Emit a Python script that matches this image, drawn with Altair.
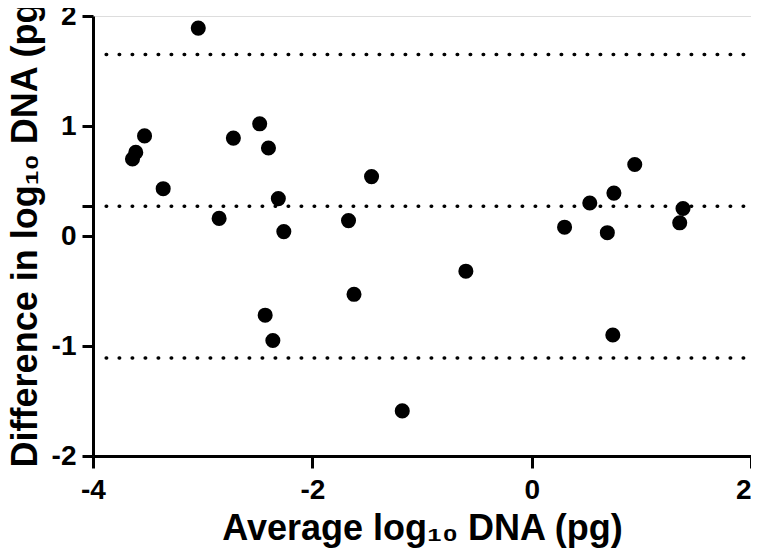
import altair as alt
import pandas as pd

# Average log10 DNA (x) and difference in log10 DNA (y) per sample
avg_x = [-3.04, -3.53, -3.61, -3.64, -3.36, -2.72, -2.48, -2.40, -2.31, -2.85,
         -2.26, -1.46, -1.67, -2.43, -2.36, -1.62, -1.18, -0.60, 0.74, 0.94,
         0.75, 0.53, 0.30, 0.69, 1.38, 1.35]
diff_y = [1.89, 0.91, 0.76, 0.70, 0.43, 0.89, 1.02, 0.80, 0.34, 0.16,
          0.04, 0.54, 0.14, -0.72, -0.95, -0.53, -1.59, -0.32, -0.90, 0.65,
          0.39, 0.30, 0.08, 0.03, 0.25, 0.12]

# Bias and 95% limits of agreement
line_names = ["upper", "bias", "lower"]
line_values = [1.65, 0.27, -1.11]
line_start = [-3.88, -3.88, -3.88]
line_end = [2.0, 2.0, 2.0]

x_ticks = [-4, -2, 0, 2]
y_ticks = [-2, -1, 0, 1, 2, 0.27]

pts = pd.DataFrame({"x": avg_x, "y": diff_y})
lines = pd.DataFrame({"name": line_names, "y": line_values,
                      "x": line_start, "x2": line_end})

FONT = "Liberation Sans"

x_scale = alt.Scale(domain=[-4, 2], nice=False, zero=False)
y_scale = alt.Scale(domain=[-2, 2], nice=False, zero=False)

x_axis = alt.Axis(
    values=x_ticks, title="Average log₁₀ DNA (pg)", grid=False,
    labelExpr="datum.value + ''",
    domainColor="black", domainWidth=3, tickColor="black", tickWidth=3, tickSize=12,
    labelFont=FONT, labelFontSize=28, labelFontWeight="bold", labelColor="black",
    labelPadding=8,
    labelAlign={"condition": {"test": "datum.value == 2", "value": "right"}, "value": "center"},
    titleFont=FONT, titleFontSize=36, titleFontWeight="bold", titleColor="black",
    titleX=329, titleY=83, titleAlign="center", titleBaseline="alphabetic",
)
y_axis = alt.Axis(
    values=y_ticks, title="Difference in log₁₀ DNA (pg)", grid=False,
    labelExpr="datum.value == 0.27 ? '' : datum.value + ''",
    domainColor="black", domainWidth=3, tickColor="black", tickWidth=3, tickSize=11,
    labelFont=FONT, labelFontSize=28, labelFontWeight="bold", labelColor="black",
    labelPadding=6,
    titleFont=FONT, titleFontSize=36, titleFontWeight="bold", titleColor="black",
    titleX=-57, titleY=212, titleAngle=270, titleAlign="center", titleBaseline="alphabetic",
)

rules = alt.Chart(lines).mark_rule(
    color="black", strokeWidth=3.5, strokeDash=[0.5, 12.5], strokeCap="round"
).encode(
    x=alt.X("x:Q", scale=x_scale, axis=x_axis),
    x2="x2:Q",
    y=alt.Y("y:Q", scale=y_scale, axis=y_axis),
)

points = alt.Chart(pts).mark_circle(size=227, color="black", opacity=1).encode(
    x=alt.X("x:Q", scale=x_scale, axis=x_axis),
    y=alt.Y("y:Q", scale=y_scale, axis=y_axis),
)

chart = alt.layer(rules, points).properties(
    width=658, height=440,
    autosize=alt.AutoSizeParams(type="none"),
    padding={"left": 85, "top": 8, "right": 0, "bottom": 94},
).configure_view(stroke=None).configure(background="white")

chart.save("out.html", embed_options={"renderer": "svg", "actions": False})
